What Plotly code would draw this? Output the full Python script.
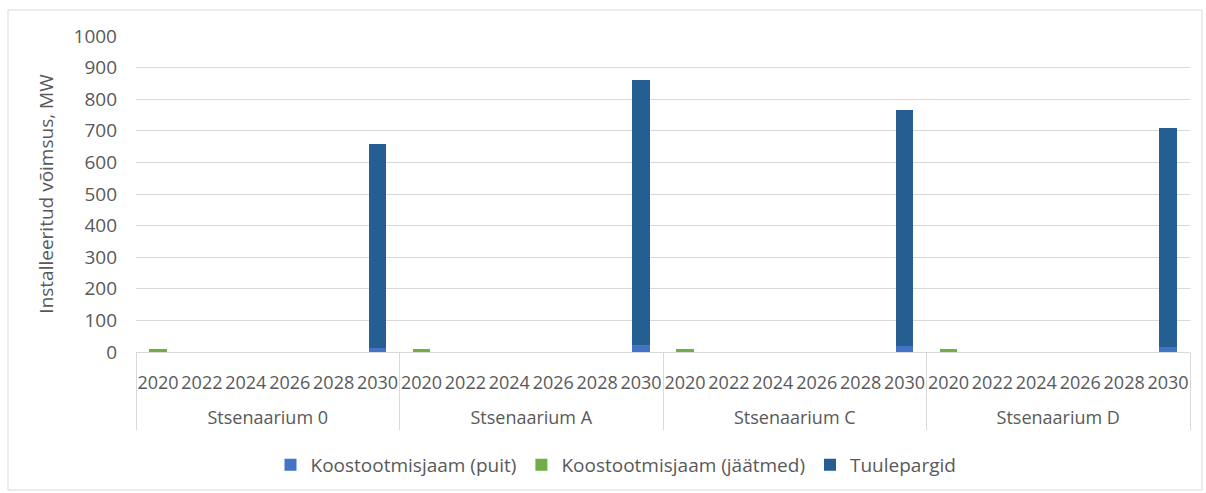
import plotly.graph_objects as go

scenarios = ["Stsenaarium 0", "Stsenaarium A", "Stsenaarium C", "Stsenaarium D"]
years = ["2020", "2022", "2024", "2026", "2028", "2030"]

# values per scenario, per year (MW)
puit = {
    "Stsenaarium 0": [0, 0, 0, 0, 0, 13],
    "Stsenaarium A": [0, 0, 0, 0, 0, 22],
    "Stsenaarium C": [0, 0, 0, 0, 0, 20],
    "Stsenaarium D": [0, 0, 0, 0, 0, 15],
}
jaatmed = {
    "Stsenaarium 0": [8, 0, 0, 0, 0, 0],
    "Stsenaarium A": [8, 0, 0, 0, 0, 0],
    "Stsenaarium C": [8, 0, 0, 0, 0, 0],
    "Stsenaarium D": [8, 0, 0, 0, 0, 0],
}
tuulepargid = {
    "Stsenaarium 0": [0, 0, 0, 0, 0, 644],
    "Stsenaarium A": [0, 0, 0, 0, 0, 839],
    "Stsenaarium C": [0, 0, 0, 0, 0, 746],
    "Stsenaarium D": [0, 0, 0, 0, 0, 694],
}

# scenario label shown one line lower (leading line break) to match spacing
lvl1 = ["<br>" + s for s in scenarios for _ in years]
lvl2 = [y for _ in scenarios for y in years]
x = [lvl1, lvl2]

def flat(d):
    return [v for s in scenarios for v in d[s]]

series = [
    ("Koostootmisjaam (puit)", puit, "#4472C4"),
    ("Koostootmisjaam (jäätmed)", jaatmed, "#70AD47"),
    ("Tuulepargid", tuulepargid, "#255E91"),
]

fig = go.Figure()
for i, (name, d, color) in enumerate(series):
    fig.add_trace(go.Bar(x=x, y=flat(d), name=name, legendgroup=f"g{i}",
                         marker=dict(color=color, line=dict(width=0))))

W, H = 1206, 493
ml, mr, mt, mb = 136, 16, 36, 141
pw, ph = W - ml - mr, H - mt - mb

font_fam = "Open Sans, Liberation Sans, sans-serif"
fig.update_layout(
    width=W, height=H,
    barmode="stack", bargap=0.6,
    margin=dict(l=ml, r=mr, t=mt, b=mb, pad=0, autoexpand=False),
    paper_bgcolor="white", plot_bgcolor="white",
    font=dict(family=font_fam, size=18, color="#595959"),
    showlegend=True,
    legend=dict(orientation="h", traceorder="normal", x=(616 - ml) / pw, xanchor="center",
                yref="container", y=0.057, yanchor="middle", bgcolor="rgba(0,0,0,0)",
                font=dict(size=19, color="#595959"), itemwidth=30, tracegroupgap=22),
    xaxis=dict(type="multicategory", tickangle=0, showline=True, linecolor="#D9D9D9",
               linewidth=1, showdividers=True, dividercolor="#D9D9D9", dividerwidth=1,
               ticks="", ticklabelstandoff=14, tickfont=dict(size=18, color="#595959"), showgrid=False),
    yaxis=dict(range=[0, 1000], dtick=100, showgrid=True, gridcolor="#D9D9D9", gridwidth=1,
               zeroline=False, showline=False, ticks="", ticklabelstandoff=18,
               tickfont=dict(size=19, color="#595959"),
               title=dict(text="Installeeritud võimsus, MW", font=dict(size=19, color="#595959"), standoff=14)),
    shapes=[dict(type="rect", xref="paper", yref="paper",
                 x0=(8 - ml) / pw, x1=(1202 - ml) / pw,
                 y0=(H - mb - 490) / ph, y1=(H - mb - 10) / ph,
                 line=dict(color="#D9D9D9", width=1), fillcolor="rgba(0,0,0,0)", layer="below")],
)

fig.write_html("out.html")
